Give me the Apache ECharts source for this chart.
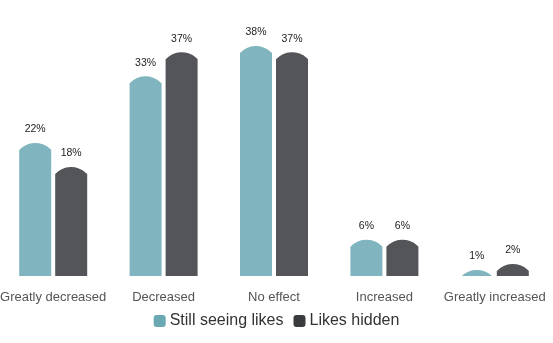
<!DOCTYPE html>
<html>
<head>
<meta charset="utf-8">
<script src="https://cdn.jsdelivr.net/npm/echarts@6/dist/echarts.min.js"></script>
<style>html,body{margin:0;padding:0;background:#fff;}#c{width:553px;height:343px;}</style>
</head>
<body>
<div id="c"></div>
<script>
var categories = ['Greatly decreased', 'Decreased', 'No effect', 'Increased', 'Greatly increased'];
var stillSeeing = [22, 33, 38, 6, 1];
var likesHidden = [18, 37, 37, 6, 2];
var seriesNames = ['Still seeing likes', 'Likes hidden'];

var barColors = ['#80b4be', '#545559'];
var legendColors = ['#6aa9b3', '#3a3b3f'];
var BAR_W = 32, GAP = 4, SAG = 7;

function makeRender(idx) {
  return function (params, api) {
    var ci = api.value(0);
    var val = api.value(1);
    var top = api.coord([ci, val]);
    var base = api.coord([ci, 0]);
    var cx = top[0] + (idx === 0 ? -(BAR_W / 2 + GAP / 2) : (BAR_W / 2 + GAP / 2));
    var x0 = cx - BAR_W / 2, x1 = cx + BAR_W / 2;
    var yt = top[1];
    var yb = base[1];
    var ys = yt + SAG;
    var r = (BAR_W * BAR_W / 4 + SAG * SAG) / (2 * SAG);
    var d = 'M' + x0 + ',' + (yb + 10) + ' L' + x0 + ',' + ys +
      ' A' + r + ',' + r + ' 0 0 1 ' + x1 + ',' + ys +
      ' L' + x1 + ',' + (yb + 10) + ' Z';
    return {
      type: 'group',
      children: [
        {
          type: 'path',
          shape: { pathData: d },
          style: { fill: barColors[idx] },
          clipPath: {
            type: 'rect',
            shape: { x: x0 - 2, y: yt - 2, width: BAR_W + 4, height: yb - yt + 2 }
          }
        },
        {
          type: 'text',
          style: {
            text: val + '%',
            x: cx,
            y: yt - 8,
            align: 'center',
            verticalAlign: 'bottom',
            fill: '#222',
            font: '10.5px "Liberation Sans", Arial, sans-serif'
          }
        }
      ]
    };
  };
}

function toData(arr) {
  return arr.map(function (v, i) { return [i, v]; });
}

var chart = echarts.init(document.getElementById('c'), null, { renderer: 'canvas' });
chart.setOption({
  animation: false,
  textStyle: { fontFamily: '"Liberation Sans", Arial, sans-serif' },
  grid: { left: -2, right: 3, top: 34, bottom: 67, containLabel: false, outerBoundsMode: 'none' },
  legend: {
    bottom: 9,
    left: 'center',
    icon: 'roundRect',
    itemWidth: 12,
    itemHeight: 12,
    itemGap: 10,
    textStyle: { fontSize: 16, color: '#333', fontFamily: '"Liberation Sans", Arial, sans-serif', padding: [0, 0, 0, -1] },
    data: [
      { name: seriesNames[0], itemStyle: { color: legendColors[0] } },
      { name: seriesNames[1], itemStyle: { color: legendColors[1] } }
    ]
  },
  xAxis: {
    type: 'category',
    data: categories,
    axisLine: { show: false },
    axisTick: { show: false },
    axisLabel: { color: '#555', fontSize: 13, margin: 15, interval: 0 }
  },
  yAxis: {
    type: 'value',
    min: 0,
    max: 40,
    show: false,
    splitLine: { show: false }
  },
  series: [
    {
      name: seriesNames[0],
      type: 'custom',
      renderItem: makeRender(0),
      itemStyle: { color: legendColors[0] },
      encode: { x: 0, y: 1 },
      data: toData(stillSeeing),
      clip: false
    },
    {
      name: seriesNames[1],
      type: 'custom',
      renderItem: makeRender(1),
      itemStyle: { color: legendColors[1] },
      encode: { x: 0, y: 1 },
      data: toData(likesHidden),
      clip: false
    }
  ]
});
</script>
</body>
</html>
